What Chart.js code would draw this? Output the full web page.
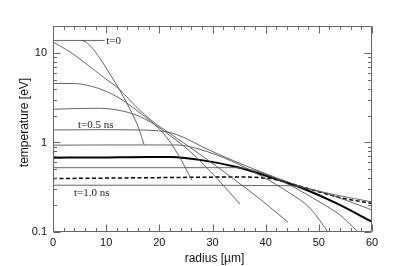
<!DOCTYPE html>
<html><head><meta charset="utf-8">
<script src="https://cdn.jsdelivr.net/npm/chart.js@4/dist/chart.umd.min.js"></script>
<style>html,body{margin:0;padding:0;background:#fff}canvas{display:block}</style>
</head><body>
<canvas id="c" width="399" height="266"></canvas>
<script>
// axis ticks
const xTickLabels = [0, 10, 20, 30, 40, 50, 60];
const yTickLabels = [0.1, 1, 10];

// temperature profiles: radius [um] and temperature [eV]
const r_t0 = [0, 5.27, 6.90, 8.09, 9.40, 10.91, 12.54, 14.43, 15.99, 17.12];
const T_t0 = [13.8, 13.8, 12.2, 10.0, 7.74, 5.55, 3.85, 2.39, 1.51, 0.95];

const r_a = [0, 3.20, 6.21, 9.40, 12.60, 15.61, 18.81, 22.0, 27.65, 33.29, 38.93, 44.2];
const T_a = [13.25, 10.26, 7.6, 5.41, 3.88, 2.51, 1.71, 1.26, 0.736, 0.419, 0.233, 0.129];

const r_b = [0, 3.76, 6.21, 9.40, 12.60, 15.61, 18.81, 21.25, 23.51, 26.14];
const T_b = [4.56, 4.56, 4.38, 3.85, 3.10, 2.31, 1.64, 1.166, 0.736, 0.378];

const r_c = [0, 4.14, 8.09, 11.66, 15.61, 18.81, 22.0, 25.77, 30.47, 35.17];
const T_c = [2.35, 2.39, 2.41, 2.33, 2.03, 1.63, 1.196, 0.794, 0.419, 0.205];

const r_d = [0, 8.84, 15.61, 19.18, 22.0, 25.01, 28.21, 34.55, 40.81, 47.02, 53.41, 60];
const T_d = [1.38, 1.39, 1.38, 1.36, 1.29, 1.11, 0.887, 0.604, 0.43, 0.318, 0.258, 0.217];

const r_e = [0, 10.72, 23.32, 27.65, 33.29, 38.93, 44.58, 48.34, 51.72];
const T_e = [0.933, 0.938, 0.938, 0.836, 0.631, 0.43, 0.271, 0.185, 0.1];

const r_f = [0, 18.24, 34.61, 38.93, 44.58, 50.22, 53.98, 57.37];
const T_f = [0.523, 0.523, 0.523, 0.464, 0.333, 0.215, 0.155, 0.1];

const r_g = [0, 18.24, 44.58, 48.34, 53.98, 60];
const T_g = [0.333, 0.333, 0.329, 0.301, 0.239, 0.176];

const r_bold = [0, 8.84, 18.24, 22.0, 28.21, 34.55, 40.81, 47.02, 53.36, 60];
const T_bold = [0.676, 0.681, 0.69, 0.687, 0.631, 0.532, 0.411, 0.306, 0.209, 0.13];

const r_dash = [0, 22.0, 34.55, 40.81, 47.02, 53.36, 60];
const T_dash = [0.395, 0.406, 0.411, 0.395, 0.318, 0.247, 0.208];

// leader line from t=0 profile to its label
const r_lead = [5.27, 9.72];
const T_lead = [13.8, 13.8];

// curve labels: text, radius, temperature
const labelTexts = ['t=0', 't=0.5 ns', 't=1.0 ns'];
const labelR = [10.0, 4.7, 3.95];
const labelT = [13.5, 1.545, 0.271];

const pts = (r, T) => r.map((v, i) => ({x: v, y: T[i]}));
const thin = (r, T) => ({data: pts(r, T), borderColor: '#555', borderWidth: 0.9, pointRadius: 0, cubicInterpolationMode: 'monotone', fill: false});

const datasets = [
  thin(r_t0, T_t0), thin(r_a, T_a), thin(r_b, T_b), thin(r_c, T_c), thin(r_d, T_d),
  thin(r_e, T_e), thin(r_f, T_f), thin(r_g, T_g), thin(r_lead, T_lead),
  {data: pts(r_dash, T_dash), borderColor: '#000', borderWidth: 1.5, borderDash: [4, 2.5], pointRadius: 0, cubicInterpolationMode: 'monotone', fill: false},
  {data: pts(r_bold, T_bold), borderColor: '#000', borderWidth: 2, pointRadius: 0, cubicInterpolationMode: 'monotone', fill: false}
];

const deco = {
  id: 'deco',
  afterDraw(chart) {
    const {ctx, chartArea: a, scales: {x, y}} = chart;
    ctx.save();
    ctx.strokeStyle = '#666';
    ctx.lineWidth = 1;
    const L = Math.round(a.left) + 0.5, R = Math.round(a.right) - 0.5;
    const Tp = Math.round(a.top) + 0.5, B = Math.round(a.bottom) - 0.5;
    ctx.beginPath();
    ctx.rect(L, Tp, R - L, B - Tp);
    for (let v = 0; v <= 60; v += 2) {
      const px = Math.round(x.getPixelForValue(v)) + 0.5;
      const len = (v % 10 === 0) ? 7 : 3.5;
      ctx.moveTo(px, B); ctx.lineTo(px, B - len);
      ctx.moveTo(px, Tp); ctx.lineTo(px, Tp + len);
    }
    for (const d of [0.1, 1, 10]) {
      for (let m = 1; m <= 9; m++) {
        const v = d * m;
        if (v > y.max + 1e-9) continue;
        const py = Math.round(y.getPixelForValue(v)) + 0.5;
        const len = m === 1 ? 7 : 3.5;
        ctx.moveTo(L, py); ctx.lineTo(L + len, py);
        ctx.moveTo(R, py); ctx.lineTo(R - len, py);
      }
    }
    ctx.stroke();
    ctx.fillStyle = '#111';
    ctx.font = '12px "Liberation Sans", Arial, sans-serif';
    ctx.textAlign = 'center';
    ctx.textBaseline = 'middle';
    ctx.fillText('radius [\u00b5m]', (a.left + a.right) / 2 + 2, 259);
    ctx.save();
    ctx.translate(25, 122.5);
    ctx.rotate(-Math.PI / 2);
    ctx.fillText('temperature [eV]', 0, 0);
    ctx.restore();
    ctx.font = '11px "Liberation Serif", "Times New Roman", serif';
    ctx.textAlign = 'left';
    ctx.fillStyle = '#222';
    labelTexts.forEach((t, i) => {
      ctx.fillText(t, x.getPixelForValue(labelR[i]), y.getPixelForValue(labelT[i]));
    });
    ctx.restore();
  }
};

new Chart(document.getElementById('c'), {
  type: 'line',
  data: {datasets},
  options: {
    responsive: false,
    animation: false,
    events: [],
    layout: {padding: {top: 26, right: 27, left: 0, bottom: 0}},
    plugins: {legend: {display: false}, tooltip: {enabled: false}, title: {display: false}},
    scales: {
      x: {
        type: 'linear', min: 0, max: 60,
        afterFit: s => { s.height = 34; },
        afterBuildTicks: s => { s.ticks = xTickLabels.map(v => ({value: v})); },
        grid: {display: false, drawTicks: false},
        border: {display: false},
        ticks: {padding: 4, color: '#111', font: {family: '"Liberation Sans", Arial, sans-serif', size: 11}, maxRotation: 0, autoSkip: false}
      },
      y: {
        type: 'logarithmic', min: 0.1, max: 20,
        afterFit: s => { s.width = 53; },
        afterBuildTicks: s => { s.ticks = yTickLabels.map(v => ({value: v})); },
        grid: {display: false, drawTicks: false},
        border: {display: false},
        ticks: {padding: 6, color: '#111', font: {family: '"Liberation Sans", Arial, sans-serif', size: 11}, autoSkip: false,
          callback: v => String(v)}
      }
    }
  },
  plugins: [deco]
});
</script>
</body></html>
